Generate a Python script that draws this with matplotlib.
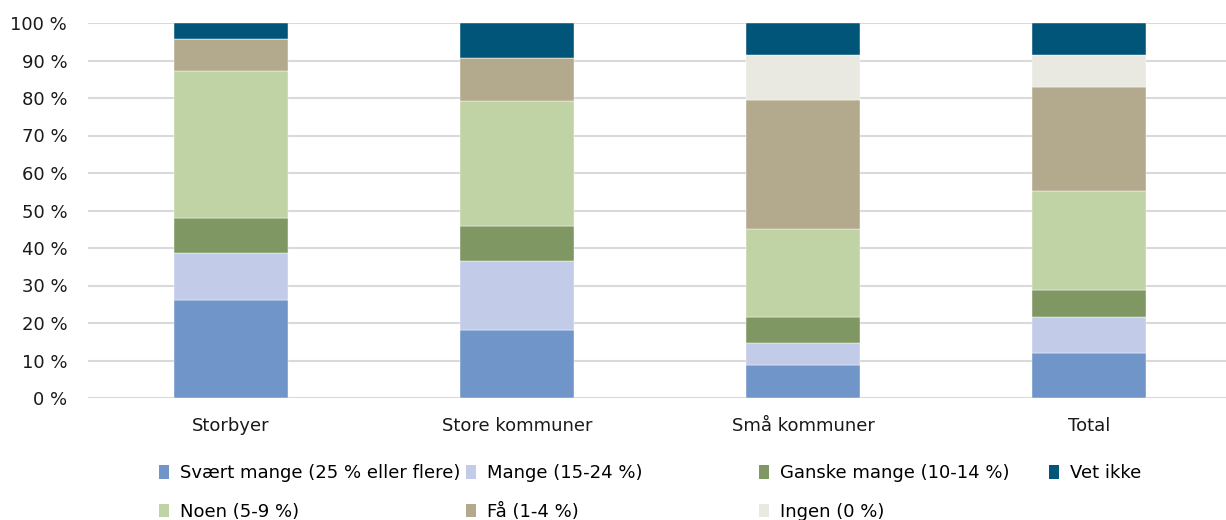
import numpy as np
import matplotlib
matplotlib.use("Agg")
import matplotlib.pyplot as plt
from matplotlib.patches import Patch

plt.rcParams['font.family'] = ['DejaVu Sans']

categories = ['Storbyer', 'Store kommuner', 'Små kommuner', 'Total']
series = ['Svært mange (25 % eller flere)', 'Mange (15-24 %)', 'Ganske mange (10-14 %)',
          'Noen (5-9 %)', 'Få (1-4 %)', 'Ingen (0 %)', 'Vet ikke']
colors = ['#6f95c9', '#c2cbe8', '#7f9762', '#c0d3a5', '#b3a98d', '#e9e9e1', '#005578']

svaert_mange = [26.1, 18.1, 8.8, 12.0]
mange = [12.7, 18.4, 5.9, 9.6]
ganske_mange = [9.3, 9.3, 6.9, 7.2]
noen = [39.2, 33.3, 23.5, 26.4]
faa = [8.5, 11.5, 34.4, 27.7]
ingen = [0.0, 0.0, 12.0, 8.6]
vet_ikke = [4.2, 9.4, 8.5, 8.5]

values = [svaert_mange, mange, ganske_mange, noen, faa, ingen, vet_ikke]
yticks = list(range(0, 101, 10))

W, H = 1226, 520
fig = plt.figure(figsize=(W / 100, H / 100), dpi=100)
ax = fig.add_axes([88 / W, 1 - 398 / H, (1232 - 88) / W, (398 - 23) / H])

x = np.arange(len(categories))
bottom = np.zeros(len(categories))
for vals, c in zip(values, colors):
    ax.bar(x, vals, 0.4, bottom=bottom, color=c, edgecolor='white', linewidth=0.3, zorder=3)
    bottom += np.array(vals)

ax.set_xlim(-0.5, 3.5)
ax.set_ylim(0, 100)
ax.set_yticks(yticks)
ax.set_yticklabels([f'{t} %' for t in yticks])
ax.set_xticks(x)
ax.set_xticklabels(categories)
ax.tick_params(axis='both', length=0, labelsize=13, colors='#1a1a1a')
ax.tick_params(axis='y', pad=15)
ax.tick_params(axis='x', pad=14)
ax.grid(axis='y', color='#d9d9d9', linewidth=1.5, zorder=0)
ax.set_axisbelow(True)
for s in ax.spines.values():
    s.set_visible(False)

# legend, laid out in 4 columns like the original
handles = [Patch(facecolor=c, edgecolor='none') for c in colors]
cols = [[0, 3], [1, 4], [2, 5], [6]]
col_x = [159, 466, 759, 1049]
for idx, cx in zip(cols, col_x):
    fig.legend([handles[i] for i in idx], [series[i] for i in idx],
               loc='upper left', bbox_to_anchor=(cx / W, 1 - 464 / H),
               frameon=False, fontsize=13, handlelength=0.55, handleheight=0.8,
               handletextpad=0.6, labelspacing=1.15, borderpad=0, borderaxespad=0)

fig.savefig('out.png', dpi=100)
